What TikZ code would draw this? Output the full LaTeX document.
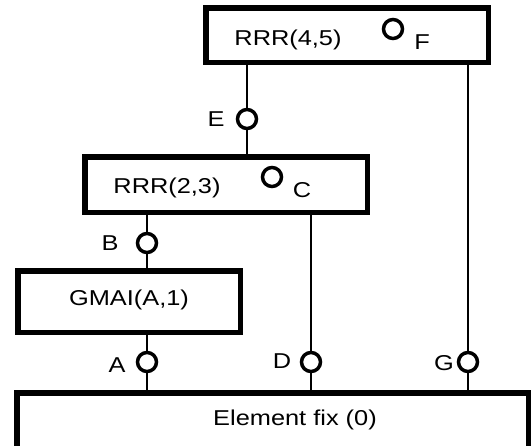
\documentclass[tikz,border=0pt]{standalone}
\usepackage{fontspec}
\setmainfont{Liberation Sans}
\newcommand{\wtxt}[1]{\scalebox{1.18}[1]{\fontsize{21.5pt}{25pt}\selectfont #1}}
\begin{document}
\begin{tikzpicture}[x=1pt,y=-1pt,
  box/.style={draw, rectangle, line width=5.5pt, inner sep=0pt, fill=white},
  port/.style={draw, circle, line width=3.5pt, minimum size=19pt, inner sep=0pt, fill=white},
  lbl/.style={inner sep=0pt},
  wire/.style={line width=2pt}]
\useasboundingbox (0,0) rectangle (532,445);
\clip (0,0) rectangle (532,445);
% boxes
\node[box, minimum width=282.5pt, minimum height=54.5pt] (top) at (347,35) {};
\node[box, minimum width=282.5pt, minimum height=55.5pt] (mid) at (226,184.5) {};
\node[box, minimum width=222.5pt, minimum height=61.5pt] (gmai) at (129,301.5) {};
\node[box, minimum width=511.5pt, minimum height=74.5pt] (bot) at (272.5,430) {};
% box texts
\node[lbl] (t45) at (288,40) {\wtxt{RRR(4,5)}};
\node[lbl] (t23) at (167,188) {\wtxt{RRR(2,3)}};
\node[lbl] (tg) at (129,300) {\wtxt{GMAI(A,1)}};
\node[lbl] (te) at (295,420) {\wtxt{Element fix (0)}};
% ports
\node[port] (F) at (393,29) {};
\node[port] (E) at (247,119) {};
\node[port] (C) at (272,177) {};
\node[port] (B) at (147,243) {};
\node[port] (A) at (147,362) {};
\node[port] (D) at (311,362) {};
\node[port] (G) at (468,362) {};
% port labels
\node[lbl] (lF) at (422,42) {\wtxt{F}};
\node[lbl] (lE) at (216,119) {\wtxt{E}};
\node[lbl] (lC) at (302,190) {\wtxt{C}};
\node[lbl] (lB) at (110,243) {\wtxt{B}};
\node[lbl] (lA) at (117,365) {\wtxt{A}};
\node[lbl] (lD) at (282,361) {\wtxt{D}};
\node[lbl] (lG) at (444,363) {\wtxt{G}};
% wires
\draw[wire] (top.south -| E) -- (E) -- (mid.north -| E);
\draw[wire] (top.south -| G) -- (G) -- (bot.north -| G);
\draw[wire] (mid.south -| D) -- (D) -- (bot.north -| D);
\draw[wire] (mid.south -| B) -- (B) -- (gmai.north -| B);
\draw[wire] (gmai.south -| A) -- (A) -- (bot.north -| A);
\end{tikzpicture}
\end{document}
